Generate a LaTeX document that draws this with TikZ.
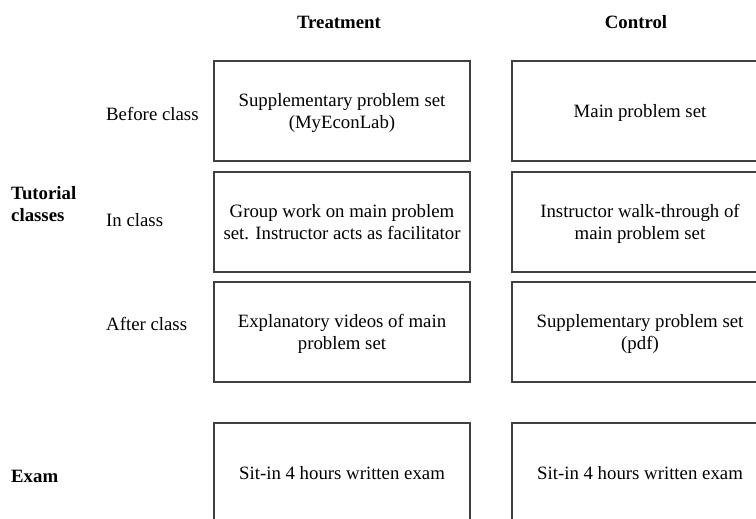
\documentclass[tikz,border=0pt]{standalone}
\usepackage{fontspec}
\setmainfont{Liberation Serif}
\usetikzlibrary{positioning}

\begin{document}
\begin{tikzpicture} [x=1pt,y=-1pt,
  every node/.style={font=\fontsize{18.8}{22}\selectfont, inner sep=0pt},
  cellbox/.style={draw=black!75, line width=1.3pt, minimum width=256pt, minimum height=100pt, align=center, text depth=-2pt},
  rowlabel/.style={anchor=west},
  headlabel/.style={font=\fontsize{18.8}{22}\selectfont\bfseries, align=left}]

\path[use as bounding box, clip] (0,0) rectangle (756,519);

\node (treat) at (339,22) [font=\fontsize{18.8}{22}\selectfont\bfseries] {Treatment};
\node (ctrl) at (636,22) [font=\fontsize{18.8}{22}\selectfont\bfseries] {Control};

\node (tbefore) at (342,111) [cellbox] {Supplementary problem set\\(MyEconLab)};
\node (tin) at (342,222) [cellbox] {Group work on main problem\\set. Instructor acts as facilitator};
\node (tafter) at (342,332) [cellbox] {Explanatory videos of main\\problem set};
\node (texam) at (342,473) [cellbox] {Sit-in 4 hours written exam};

\node (cbefore) at (640,111) [cellbox] {Main problem set};
\node (cin) at (640,222) [cellbox] {Instructor walk-through of\\main problem set};
\node (cafter) at (640,332) [cellbox] {Supplementary problem set\\(pdf)};
\node (cexam) at (640,473) [cellbox] {Sit-in 4 hours written exam};

\node (before) at (106,114) [rowlabel] {Before class};
\node (inclass) at (106,220) [rowlabel] {In class};
\node (after) at (106,324) [rowlabel] {After class};

\node (tutorial) at (11,204) [headlabel, anchor=west] {Tutorial\\classes};
\node (exam) at (11,476) [headlabel, anchor=west] {Exam};

\end{tikzpicture}
\end{document}
